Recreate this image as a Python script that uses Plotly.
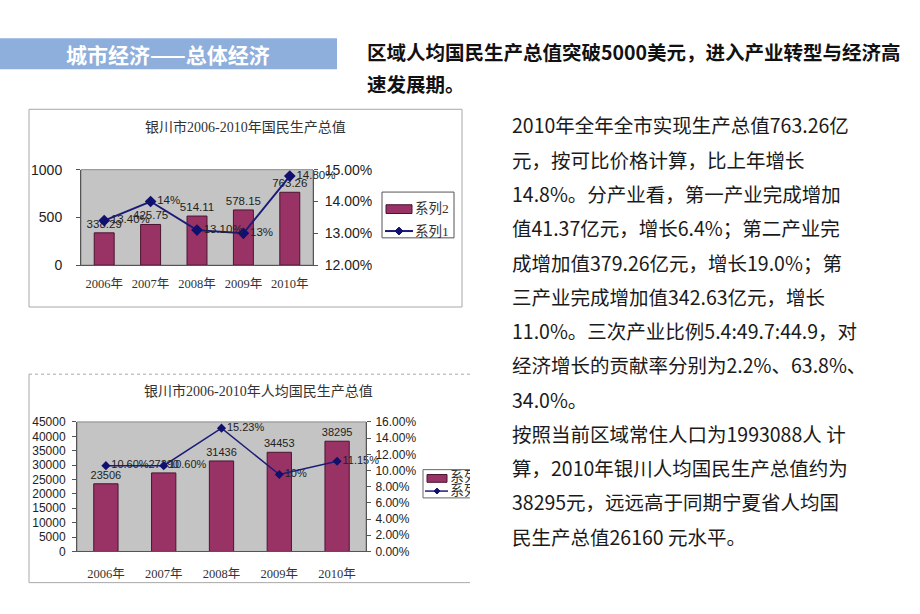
import plotly.graph_objects as go

# ---------------- data ----------------
categories = ["2006年", "2007年", "2008年", "2009年", "2010年"]

gdp = [338.29, 425.75, 514.11, 578.15, 763.26]            # 系列2 (chart 1, bars)
gdp_growth = [0.134, 0.14, 0.131, 0.13, 0.148]            # 系列1 (chart 1, line)
gdp_growth_labels = ["13.40%", "14%", "13.10%", "13%", "14.80%"]

pc_gdp = [23506, 27290, 31436, 34453, 38295]              # 系列2 (chart 2, bars)
pc_growth = [0.106, 0.106, 0.1523, 0.095, 0.1115]         # 系列1 (chart 2, line)
pc_growth_labels = ["10.60%", "10.60%", "15.23%", "10%", "11.15%"]

series_names = ["系列2", "系列1"]

header_left = "城市经济——总体经济"
header_right = ["区域人均国民生产总值突破5000美元，进入产业转型与经济高", "速发展期。"]
chart1_title = "银川市2006-2010年国民生产总值"
chart2_title = "银川市2006-2010年人均国民生产总值"
body_lines = [
    "2010年全年全市实现生产总值763.26亿",
    "元，按可比价格计算，比上年增长",
    "14.8%。分产业看，第一产业完成增加",
    "值41.37亿元，增长6.4%；第二产业完",
    "成增加值379.26亿元，增长19.0%；第",
    "三产业完成增加值342.63亿元，增长",
    "11.0%。三次产业比例5.4:49.7:44.9，对",
    "经济增长的贡献率分别为2.2%、63.8%、",
    "34.0%。",
    "按照当前区域常住人口为1993088人 计",
    "算，2010年银川人均国民生产总值约为",
    "38295元，远远高于同期宁夏省人均国",
    "民生产总值26160 元水平。",
]

# ---------------- helpers ----------------
W, H = 920, 614
def X(px): return px / W
def Y(py): return 1 - py / H

BAR = "#993366"
BAR_LINE = "#4a1530"
LINE = "#1c1c78"
SANS = "Liberation Sans, Arial, Noto Sans CJK SC"
SERIF = "Liberation Serif, Noto Sans CJK SC"
CJK = "Noto Sans CJK SC"

fig = go.Figure()

# ---- chart 1 ----
fig.add_trace(go.Bar(
    x=categories, y=gdp, xaxis="x", yaxis="y", width=0.43,
    marker=dict(color=BAR, line=dict(color=BAR_LINE, width=1)),
    text=[f"{v:.2f}" for v in gdp], textposition="outside", cliponaxis=False, constraintext="none",
    textfont=dict(family=SANS, size=11.5, color="#222"), showlegend=False))
fig.add_trace(go.Scatter(
    x=categories, y=gdp_growth, xaxis="x", yaxis="y2", mode="lines+markers+text",
    line=dict(color=LINE, width=2), marker=dict(symbol="diamond", size=9, color="#10106e"),
    text=gdp_growth_labels, textposition="middle right", cliponaxis=False,
    textfont=dict(family=SANS, size=11.5, color="#222"), showlegend=False))

# ---- chart 2 ----
fig.add_trace(go.Bar(
    x=categories, y=pc_gdp, xaxis="x2", yaxis="y3", width=0.42,
    marker=dict(color=BAR, line=dict(color=BAR_LINE, width=1)),
    text=[str(v) for v in pc_gdp], textposition="outside", cliponaxis=False, constraintext="none",
    textfont=dict(family=SANS, size=11, color="#222"), showlegend=False))
fig.add_trace(go.Scatter(
    x=categories, y=pc_growth, xaxis="x2", yaxis="y4", mode="lines+markers+text",
    line=dict(color=LINE, width=1.5), marker=dict(symbol="diamond", size=7, color="#10106e"),
    text=pc_growth_labels, textposition="middle right", cliponaxis=False,
    textfont=dict(family=SANS, size=11, color="#222"), showlegend=False))

# ---- chart 2 legend text (clipped at the picture's edge) ----
fig.add_trace(go.Scatter(
    x=[0, 0], y=[0.72, 0.24], xaxis="x3", yaxis="y5", mode="text",
    text=series_names, textposition="middle right", cliponaxis=True,
    textfont=dict(family=SERIF, size=14, color="#333"), showlegend=False, hoverinfo="skip"))

axis_common = dict(showgrid=False, zeroline=False, showline=True, linecolor="#555", linewidth=1)

fig.update_layout(
    width=W, height=H, margin=dict(l=0, r=0, t=0, b=0),
    paper_bgcolor="white", plot_bgcolor="white", bargap=0.5,
    xaxis=dict(domain=[X(81), X(313)], anchor="y", ticks="", **axis_common,
               tickfont=dict(family=SERIF, size=12.5, color="#333"), ticklabelstandoff=7),
    yaxis=dict(domain=[Y(264), Y(166)], anchor="x", range=[0, 1000], dtick=500, ticks="outside",
               ticklen=4, tickcolor="#555", **axis_common,
               tickfont=dict(family=SANS, size=14, color="#222"), ticklabelstandoff=11),
    yaxis2=dict(overlaying="y", side="right", anchor="x", range=[0.12, 0.15], dtick=0.01,
                tickformat=".2%", ticks="outside", ticklen=4, tickcolor="#555", **axis_common,
                tickfont=dict(family=SANS, size=14, color="#222"), ticklabelstandoff=4),
    xaxis2=dict(domain=[X(77), X(366)], anchor="y3", ticks="", **axis_common,
                tickfont=dict(family=SERIF, size=12.5, color="#333"), ticklabelstandoff=11),
    yaxis3=dict(domain=[Y(558), Y(425)], anchor="x2", range=[0, 45000], dtick=5000, ticks="outside",
                tickformat="d", ticklen=4, tickcolor="#555", **axis_common,
                tickfont=dict(family=SANS, size=12, color="#222"), ticklabelstandoff=4),
    yaxis4=dict(overlaying="y3", side="right", anchor="x2", range=[0, 0.16], dtick=0.02,
                tickformat=".2%", ticks="outside", ticklen=4, tickcolor="#555", **axis_common,
                tickfont=dict(family=SANS, size=12, color="#222"), ticklabelstandoff=2),
    xaxis3=dict(domain=[X(450), X(470)], anchor="y5", range=[0, 1], visible=False, fixedrange=True),
    yaxis5=dict(domain=[Y(503), Y(474)], anchor="x3", range=[0, 1], visible=False, fixedrange=True),
)

shapes = []
# gray plot areas
for xr, yr in (("x", "y"), ("x2", "y3")):
    shapes.append(dict(type="rect", xref=f"{xr} domain", yref=f"{yr} domain", x0=0, x1=1, y0=0, y1=1,
                       fillcolor="#c4c4c4", line=dict(color="#8a8a8a", width=1), layer="below"))
# header bar
shapes.append(dict(type="rect", xref="paper", yref="paper", x0=X(0), x1=X(337), y0=Y(63), y1=Y(31),
                   fillcolor="#8eaedc", line=dict(width=0), layer="below"))
# chart 1 frame
shapes.append(dict(type="rect", xref="paper", yref="paper", x0=X(29), x1=X(462), y0=Y(307), y1=Y(104),
                   line=dict(color="#a8a8a8", width=1), layer="below"))
# chart 2 frame (cut at the right edge)
for x0, y0, x1, y1 in ((29, 376, 470, 376), (29, 376, 29, 590), (29, 590, 470, 590)):
    shapes.append(dict(type="line", xref="paper", yref="paper", x0=X(x0), y0=Y(y0), x1=X(x1), y1=Y(y1),
                       line=dict(color="#a8a8a8", width=1, dash="dot" if y0 == y1 == 376 else "solid"),
                       layer="below"))
# chart 1 legend
shapes.append(dict(type="rect", xref="paper", yref="paper", x0=X(382), x1=X(454), y0=Y(236), y1=Y(189),
                   line=dict(color="#555", width=1), fillcolor="white"))
shapes.append(dict(type="rect", xref="paper", yref="paper", x0=X(386), x1=X(412), y0=Y(211), y1=Y(202),
                   line=dict(color=BAR_LINE, width=1), fillcolor=BAR))
shapes.append(dict(type="line", xref="paper", yref="paper", x0=X(385), x1=X(413), y0=Y(229), y1=Y(229),
                   line=dict(color=LINE, width=2)))
cx, cy = 399, 229
shapes.append(dict(type="path", xref="paper", yref="paper",
                   path=f"M {X(cx-4)},{Y(cy)} L {X(cx)},{Y(cy-4)} L {X(cx+4)},{Y(cy)} L {X(cx)},{Y(cy+4)} Z",
                   fillcolor="#10106e", line=dict(color="#10106e", width=1)))
# chart 2 legend (cut at the right edge)
for x0, y0, x1, y1 in ((423, 474, 470, 474), (423, 474, 423, 503), (423, 503, 470, 503)):
    shapes.append(dict(type="line", xref="paper", yref="paper", x0=X(x0), y0=Y(y0), x1=X(x1), y1=Y(y1),
                       line=dict(color="#666", width=1)))
shapes.append(dict(type="rect", xref="paper", yref="paper", x0=X(427), x1=X(447), y0=Y(487), y1=Y(479),
                   line=dict(color=BAR_LINE, width=1), fillcolor=BAR))
shapes.append(dict(type="line", xref="paper", yref="paper", x0=X(425), x1=X(448), y0=Y(496), y1=Y(496),
                   line=dict(color=LINE, width=1.5)))
cx, cy = 437, 496
shapes.append(dict(type="path", xref="paper", yref="paper",
                   path=f"M {X(cx-3)},{Y(cy)} L {X(cx)},{Y(cy-3)} L {X(cx+3)},{Y(cy)} L {X(cx)},{Y(cy+3)} Z",
                   fillcolor="#10106e", line=dict(color="#10106e", width=1)))
fig.update_layout(shapes=shapes)

ann = []
ann.append(dict(text=header_left, x=X(168), y=Y(47), xref="paper", yref="paper", showarrow=False,
                xanchor="center", yanchor="middle",
                font=dict(family=CJK, size=21, color="white", weight="bold")))
for i, line in enumerate(header_right):
    ann.append(dict(text=line, x=X(365), y=Y(45 + 33 * i), xref="paper", yref="paper", showarrow=False,
                    xanchor="left", yanchor="middle",
                    font=dict(family=CJK, size=19.5, color="#111", weight="bold")))
ann.append(dict(text=chart1_title, x=X(245), y=Y(122), xref="paper", yref="paper", showarrow=False,
                xanchor="center", yanchor="middle", font=dict(family=SERIF, size=14, color="#333")))
ann.append(dict(text=chart2_title, x=X(258), y=Y(393), xref="paper", yref="paper", showarrow=False,
                xanchor="center", yanchor="middle", font=dict(family=SERIF, size=14, color="#333")))
for i, name in enumerate(series_names):
    ann.append(dict(text=name, x=X(413), y=Y(206 + 23 * i), xref="paper", yref="paper", showarrow=False,
                    xanchor="left", yanchor="middle", font=dict(family=SERIF, size=13.5, color="#333")))
for i, line in enumerate(body_lines):
    ann.append(dict(text=line, x=X(510), y=Y(120 + 35.2 * i), xref="paper", yref="paper", showarrow=False,
                    xanchor="left", yanchor="middle", font=dict(family=CJK, size=19.5, color="#1a1a1a")))
fig.update_layout(annotations=ann)

fig.write_html("out.html", config={"displayModeBar": False},
               post_script="document.body.style.margin='0';")
